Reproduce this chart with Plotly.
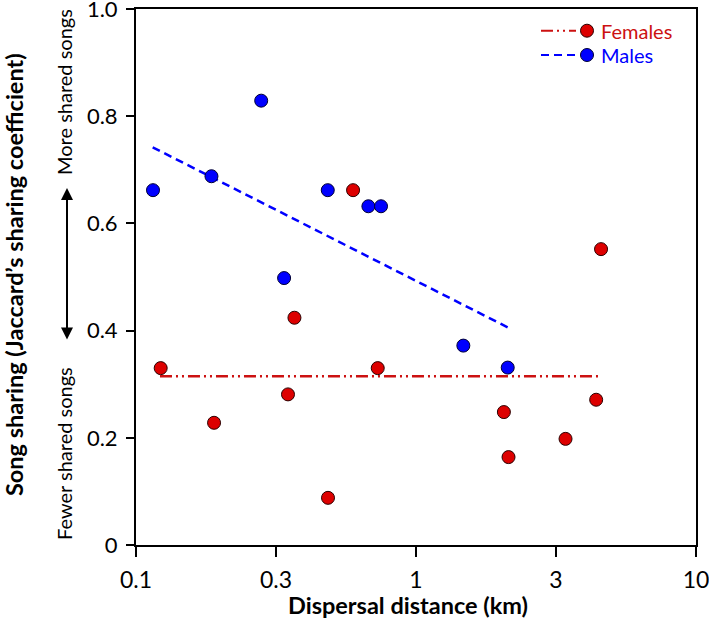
import plotly.graph_objects as go

# ---- data ----
male_dist = [0.115, 0.186, 0.280, 0.484, 0.676, 0.750, 0.338, 1.476, 2.126]
male_share = [0.662, 0.688, 0.829, 0.662, 0.632, 0.632, 0.498, 0.372, 0.331]
female_dist = [0.596, 0.368, 0.1225, 0.730, 0.349, 0.190, 0.485, 4.58, 4.40, 2.06, 3.42, 2.14]
female_share = [0.662, 0.424, 0.330, 0.330, 0.281, 0.228, 0.088, 0.552, 0.271, 0.248, 0.198, 0.164]
male_fit_x = [0.1147, 2.126]
male_fit_y = [0.742, 0.406]
female_fit_x = [0.1218, 4.52]
female_fit_y = [0.315, 0.315]
x_tickvals = [0.1, 0.3162, 1, 3.162, 10]
x_ticktext = ["0.1", "0.3", "1", "3", "10"]
y_tickvals = [0, 0.2, 0.4, 0.6, 0.8, 1.0]
y_ticktext = ["0", "0.2", "0.4", "0.6", "0.8", "1.0"]

RED = "#DD0000"
RED_LINE = "#CC1111"
BLUE = "#0000FF"
FONT = "Lato"

fig = go.Figure()
fig.add_trace(go.Scatter(x=female_fit_x, y=female_fit_y, mode="lines",
                         line=dict(color=RED_LINE, width=2.5, dash="12px,4px,2px,4px,2px,4px"),
                         showlegend=False, hoverinfo="skip"))
fig.add_trace(go.Scatter(x=male_fit_x, y=male_fit_y, mode="lines",
                         line=dict(color=BLUE, width=2.5, dash="8px,5px"),
                         showlegend=False, hoverinfo="skip"))
fig.add_trace(go.Scatter(x=female_dist, y=female_share, mode="markers", name="Females",
                         marker=dict(size=13, color=RED, line=dict(color="#2a0000", width=1)),
                         showlegend=False))
fig.add_trace(go.Scatter(x=male_dist, y=male_share, mode="markers", name="Males",
                         marker=dict(size=13, color=BLUE, line=dict(color="#000033", width=1)),
                         showlegend=False))

# plot area in screen pixels
L, R, T, B = 136, 696, 9, 545
W, H = R - L, B - T
FIG_W, FIG_H = 709, 630


def px(x):
    return (x - L) / W


def py(y):
    return (B - y) / H


shapes = []
annotations = []
# manual legend
for yy, col, dash, label, mcol, ocol in [
    (30.7, RED_LINE, "12px,4px,2px,4px,2px,4px", "Females", RED, "#2a0000"),
    (55.0, BLUE, "8px,5px", "Males", BLUE, "#000033"),
]:
    shapes.append(dict(type="line", xref="paper", yref="paper",
                       x0=px(541), x1=px(576), y0=py(yy), y1=py(yy),
                       line=dict(color=col, width=2, dash=dash)))
    r = 6.5
    shapes.append(dict(type="circle", xref="paper", yref="paper",
                       x0=px(587 - r), x1=px(587 + r), y0=py(yy + r), y1=py(yy - r),
                       fillcolor=mcol, line=dict(color=ocol, width=1)))
    annotations.append(dict(text=label, xref="paper", yref="paper", x=px(599), y=py(yy),
                            xanchor="left", yanchor="middle", showarrow=False,
                            font=dict(family=FONT, size=20, color=col)))

# y title
annotations.append(dict(text="<b>Song sharing (Jaccard’s sharing coefficient)</b>",
                        xref="paper", yref="paper", x=px(14), y=py(275), textangle=-90,
                        xanchor="center", yanchor="middle", showarrow=False,
                        font=dict(family=FONT, size=23.5, color="black")))
# x title
annotations.append(dict(text="<b>Dispersal distance (km)</b>",
                        xref="paper", yref="paper", x=px(408), y=py(605),
                        xanchor="center", yanchor="middle", showarrow=False,
                        font=dict(family=FONT, size=23.5, color="black")))
annotations.append(dict(text="More shared songs", xref="paper", yref="paper",
                        x=px(64), y=py(92), textangle=-90, xanchor="center", yanchor="middle",
                        showarrow=False, font=dict(family=FONT, size=20, color="black")))
annotations.append(dict(text="Fewer shared songs", xref="paper", yref="paper",
                        x=px(64), y=py(454), textangle=-90, xanchor="center", yanchor="middle",
                        showarrow=False, font=dict(family=FONT, size=20, color="black")))
# double arrow
annotations.append(dict(text="", xref="paper", yref="paper", x=px(67), y=py(188),
                        ax=0, ay=153, axref="pixel", ayref="pixel", showarrow=True,
                        arrowside="end+start", arrowhead=2, arrowsize=1.2, arrowwidth=2,
                        arrowcolor="black"))

fig.update_layout(
    width=FIG_W, height=FIG_H,
    margin=dict(l=L, r=FIG_W - R, t=T, b=FIG_H - B, autoexpand=False),
    plot_bgcolor="white", paper_bgcolor="white",
    font=dict(family=FONT, color="black"),
    shapes=shapes, annotations=annotations,
    xaxis=dict(type="log", range=[-1, 1], tickvals=x_tickvals, ticktext=x_ticktext,
               ticks="outside", ticklen=10, tickwidth=2, tickcolor="black",
               showline=True, linecolor="black", linewidth=2, mirror=True,
               showgrid=False, zeroline=False, tickfont=dict(family=FONT, size=23),
               automargin=False, ticklabeloverflow="allow", ticklabelstandoff=3),
    yaxis=dict(range=[0, 1], tickvals=y_tickvals, ticktext=y_ticktext,
               ticks="outside", ticklen=8, tickwidth=2, tickcolor="black",
               showline=True, linecolor="black", linewidth=2, mirror=True,
               showgrid=False, zeroline=False, tickfont=dict(family=FONT, size=22),
               automargin=False, ticklabeloverflow="allow", ticklabelstandoff=4),
)

fig.write_html("out.html", config={"displayModeBar": False},
               post_script="document.body.style.margin='0px';")
